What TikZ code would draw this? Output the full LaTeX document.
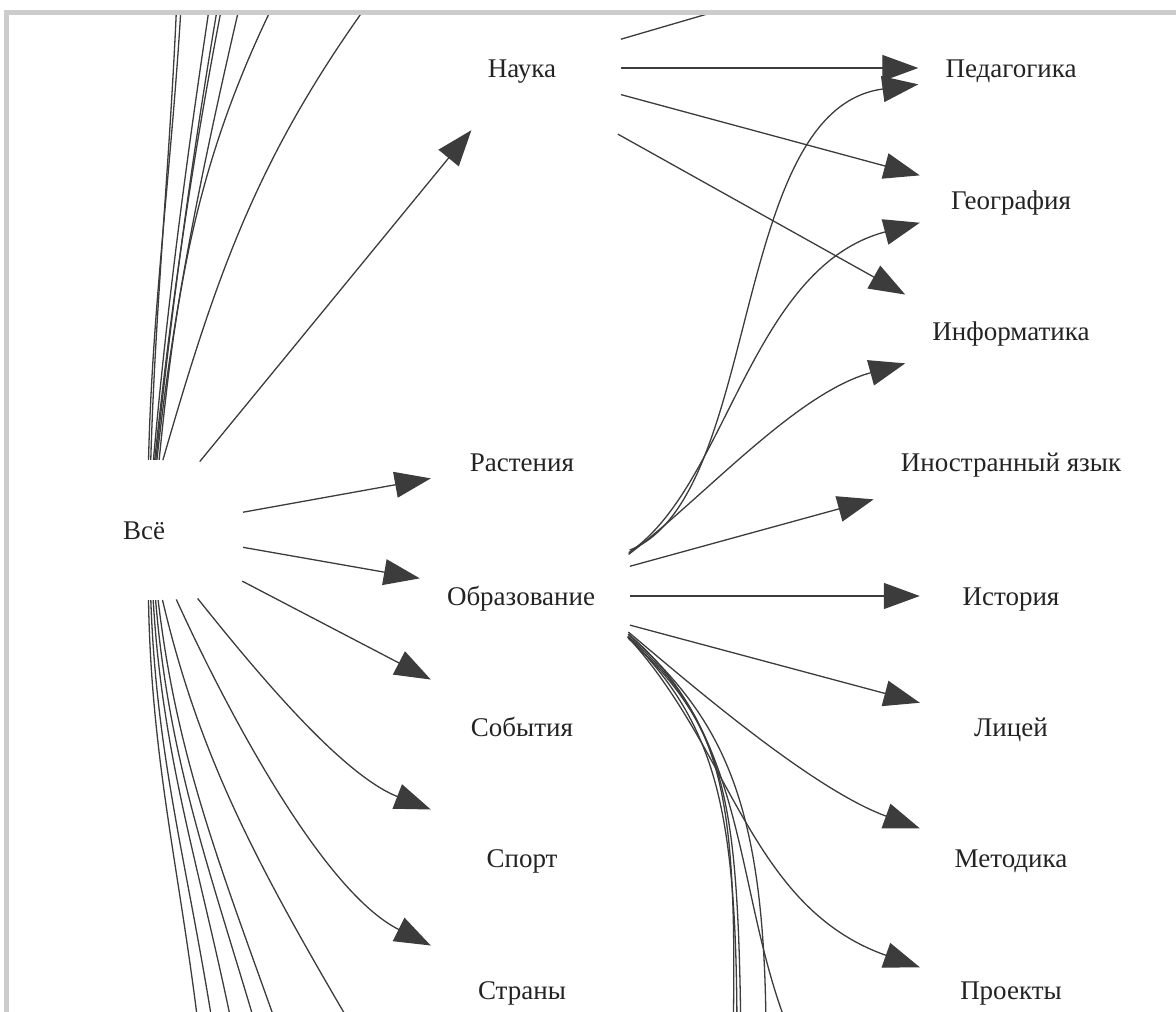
\documentclass[tikz,border=0pt]{standalone}
\usepackage{fontspec}
\setmainfont{Liberation Serif}
\usetikzlibrary{arrows.meta}
\definecolor{EdgeGrey}{RGB}{60,60,60}
\definecolor{LabelGrey}{RGB}{35,35,35}
\definecolor{FrameGrey}{RGB}{204,204,204}

\begin{document}
\begin{tikzpicture}[x=1pt,y=-1pt,>={Triangle[length=36pt,width=26pt]},
    topic/.style={inner xsep=27pt,minimum width=182pt,minimum height=124pt,
      text height=24pt,text depth=6pt,text=LabelGrey,
      font=\fontsize{27}{30}\selectfont},
    link/.style={EdgeGrey,line width=1.3pt,shorten <=8pt},
    viewframe/.style={FrameGrey,line width=5pt}]
  \useasboundingbox (0,0) rectangle (1176,1012);

  \node[topic] (vse) at (144,530) {Всё};

  \node[topic] (nauka) at (522,68) {Наука};
  \node[topic] (rast) at (522,462) {Растения};
  \node[topic] (obr) at (521,596) {Образование};
  \node[topic] (sob) at (522,727) {События};
  \node[topic] (sport) at (522,858) {Спорт};
  \node[topic] (strany) at (522,990) {Страны};

  \node[topic] (ped) at (1011,68) {Педагогика};
  \node[topic] (geo) at (1011,200) {География};
  \node[topic] (inf) at (1011,331) {Информатика};
  \node[topic] (inyaz) at (1011,462) {Иностранный язык};
  \node[topic] (ist) at (1011,596) {История};
  \node[topic] (licey) at (1011,727) {Лицей};
  \node[topic] (metod) at (1011,858) {Методика};
  \node[topic] (proekt) at (1011,990) {Проекты};

  \begin{scope}
  \clip (9,15) rectangle (1176,1012);
  \draw[link,->] (vse) -- (nauka);
  \draw[link,->] (vse) -- (rast);
  \draw[link,->] (vse) -- (obr);
  \draw[link,->] (vse) -- (sob);
  \draw[link,->] (vse.-52) .. controls +(60,75) and +(-90,-35) .. (sport.152);
  \draw[link,->] (vse.-65) .. controls +(50,110) and +(-110,-55) .. (strany.154);

  \foreach \angl/\xend/\ax/\ay/\bx/\by [count=\i] in
      {86/183/4/170/-8/170, 84/178/5/170/-6/170, 82/215/15/170/-26/170,
       81/229/18/170/-34/170, 80/224/18/170/-30/170, 79/248/18/170/-40/170,
       77/291/18/180/-95/180, 75/393/60/208/-130/172}{
    \coordinate (up\i) at (\xend,-30);
    \draw[link] (vse.\angl) .. controls +(\ax,-\ay) and +(\bx,\by) .. (up\i);
  }
  \foreach \angl/\xend/\ax/\bx [count=\i] in
      {-86/200/3/-20, -84/215/6/-26, -82/235/10/-34,
       -80/260/14/-50, -78/282/20/-60, -75/360/40/-100}{
    \coordinate (down\i) at (\xend,1040);
    \draw[link] (vse.\angl) .. controls +(\ax,170) and +(\bx,-170) .. (down\i);
  }

  \coordinate (nauka out) at (810,-16);
  \draw[link] (nauka) -- (nauka out);
  \draw[link,->] (nauka) -- (ped);
  \draw[link,->] (nauka) -- (geo);
  \draw[link,->] (nauka.-35) -- (inf.161);

  \draw[link,->] (obr.23) .. controls +(140,-55) and +(-190,25) .. (ped.190);
  \draw[link,->] (obr.21) .. controls +(105,-71) and +(-170,45) .. (geo.194);
  \draw[link,->] (obr.20) .. controls +(80,-60) and +(-110,30) .. (inf.197);
  \draw[link,->] (obr) -- (inyaz);
  \draw[link,->] (obr) -- (ist);
  \draw[link,->] (obr) -- (licey);
  \draw[link,->] (obr.-17) .. controls +(60,50) and +(-110,-40) .. (metod.162);
  \draw[link,->] (obr.-19) .. controls +(110,120) and +(-170,-60) .. (proekt.166);

  \foreach \angl/\xend/\ax/\ay/\bx/\by [count=\i] in
      {-19/733/100/90/5/-250, -19/737/95/95/0/-230, -20/741/105/95/-3/-240,
       -18/766/100/90/0/-240, -18/793/130/110/-60/-140}{
    \coordinate (obr down\i) at (\xend,1040);
    \draw[link] (obr.\angl) .. controls +(\ax,\ay) and +(\bx,\by) .. (obr down\i);
  }
  \end{scope}

  \draw[viewframe] (6.5,12.5) rectangle (1300,1100);
\end{tikzpicture}
\end{document}
